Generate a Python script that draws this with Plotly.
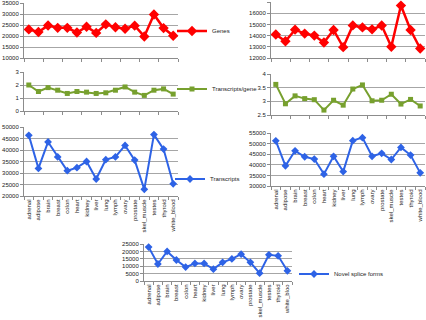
import plotly.graph_objects as go

categories = ["adrenal", "adipose", "brain", "breast", "colon", "heart", "kidney", "liver",
              "lung", "lymph", "ovary", "prostate", "skel_muscle", "testes", "thyroid", "white_blood"]
novel_tick_labels = ["adrenal", "adipose", "brain", "breast", "colon", "heart", "kidney", "liver",
                     "lung", "lymph", "ovary", "prostate", "skel_muscle", "testes", "thyroid", "white_bloo"]

genes_left = [23000, 21800, 24800, 23700, 23700, 21600, 24200, 21400,
              25300, 24000, 23300, 24700, 19800, 29800, 23600, 20100]
tpg_left = [2.0, 1.5, 1.8, 1.6, 1.35, 1.5, 1.45, 1.35, 1.4, 1.6, 1.85, 1.45, 1.2, 1.6, 1.7, 1.3]
transcripts_left = [46400, 32000, 43500, 37000, 31000, 32300, 35000, 27400,
                    35800, 37000, 42000, 35600, 22900, 46700, 40400, 25300]

genes_right = [14100, 13500, 14530, 14180, 14000, 13380, 14500, 12970,
               14910, 14730, 14560, 14900, 13000, 16680, 14500, 12850]
tpg_right = [3.62, 2.91, 3.2, 3.1, 3.06, 2.68, 3.04, 2.86, 3.45, 3.6, 3.02, 3.04, 3.26, 2.9, 3.07, 2.83]
transcripts_right = [51300, 39500, 46600, 43800, 42700, 35600, 44000, 36800,
                     51400, 52800, 44000, 45400, 42500, 48200, 44600, 36200]

novel_splice = [22900, 11500, 20000, 14200, 9400, 11900, 11900, 8000,
                12600, 14900, 18100, 12600, 5300, 17700, 17000, 6900]

W, H = 426, 320
RED = "#FF0000"
GREEN = "#77A02E"
BLUE = "#2E63E6"
FONT = "Liberation Sans"


def px(v):
    return v / W


def py(v):
    return 1 - v / H


fig = go.Figure()

def add(x_vals, y_vals, name, color, symbol, msize, lw, xa, ya, legend=None, show=False):
    fig.add_trace(go.Scatter(
        x=x_vals, y=y_vals, name=name, mode="lines+markers",
        line=dict(color=color, width=lw),
        marker=dict(color=color, symbol=symbol, size=msize),
        xaxis=xa, yaxis=ya, showlegend=show,
        legend=legend if legend else "legend",
        cliponaxis=False,
    ))

add(categories, genes_left, "Genes", RED, "diamond", 8, 2.5, "x", "y", "legend", True)
add(categories, genes_right, "Genes", RED, "diamond", 8, 2.5, "x2", "y2")
add(categories, tpg_left, "Transcripts/gene", GREEN, "square", 5, 2, "x3", "y3", "legend2", True)
add(categories, tpg_right, "Transcripts/gene", GREEN, "square", 5, 2, "x4", "y4")
add(categories, transcripts_left, "Transcripts", BLUE, "diamond", 6, 2, "x5", "y5", "legend3", True)
add(categories, transcripts_right, "Transcripts", BLUE, "diamond", 6, 2, "x6", "y6")
add(categories, novel_splice, "Novel splice forms", BLUE, "diamond", 6, 2, "x7", "y7", "legend4", True)

AX = "#8C8C8C"
GRID = "#A6A6A6"
tf = dict(family=FONT, size=6, color="#222")

def xaxis(dom, anchor, labels=False, ticktext=None):
    d = dict(domain=dom, anchor=anchor, type="category", range=[-0.5, 15.5],
             showgrid=False, showline=True, linecolor=AX, linewidth=1,
             ticks="outside", ticklen=3, tickcolor=AX, tickson="boundaries",
             showticklabels=labels, tickangle=-90, tickfont=tf, zeroline=False,
             automargin=False)
    if ticktext is not None:
        d.update(tickmode="array", tickvals=categories, ticktext=ticktext)
    return d

def yaxis(dom, anchor, rng, dtick, fmt="d"):
    return dict(domain=dom, anchor=anchor, range=rng, dtick=dtick,
                showgrid=True, gridcolor=GRID, gridwidth=1,
                showline=True, linecolor=AX, linewidth=1,
                ticks="outside", ticklen=3, tickcolor=AX,
                tickfont=tf, zeroline=False, tickformat=fmt, automargin=False)

LX = [px(24), px(178)]
RX = [px(271), px(425)]
BX = [px(144), px(292)]

fig.update_layout(
    template="none",
    width=W, height=H, margin=dict(l=0, r=0, t=0, b=0, autoexpand=False),
    paper_bgcolor="white", plot_bgcolor="white",
    font=dict(family=FONT, size=6, color="#222"),
    hovermode=False,
    xaxis=xaxis(LX, "y"),
    yaxis=yaxis([py(58), py(3)], "x", [10000, 35000], 5000),
    xaxis2=xaxis(RX, "y2"),
    yaxis2=yaxis([py(58), py(2)], "x2", [12000, 17000], 1000),
    xaxis3=xaxis(LX, "y3"),
    yaxis3=yaxis([py(111), py(72)], "x3", [0, 3], 1),
    xaxis4=xaxis(RX, "y4"),
    yaxis4=yaxis([py(115), py(74)], "x4", [2.5, 4], 0.5, ""),
    xaxis5=xaxis(LX, "y5", True),
    yaxis5=yaxis([py(196), py(127)], "x5", [20000, 50000], 5000),
    xaxis6=xaxis(RX, "y6", True),
    yaxis6=yaxis([py(186), py(133)], "x6", [30000, 55000], 5000),
    xaxis7=xaxis(BX, "y7", True, novel_tick_labels),
    yaxis7=yaxis([py(281), py(244)], "x7", [0, 25000], 5000),
)

leg = dict(bgcolor="rgba(0,0,0,0)", font=dict(family=FONT, size=6, color="#222"),
           xanchor="left", yanchor="middle", itemwidth=30, borderwidth=0)
fig.update_layout(
    legend=dict(leg, x=px(172), y=py(31)),
    legend2=dict(leg, x=px(172), y=py(89)),
    legend3=dict(leg, x=px(170), y=py(179)),
    legend4=dict(leg, x=px(294), y=py(274)),
)

fig.write_html(
    "out.html",
    config={"displayModeBar": False, "staticPlot": True},
    post_script="document.body.style.margin='0';document.body.style.overflow='hidden';",
)
